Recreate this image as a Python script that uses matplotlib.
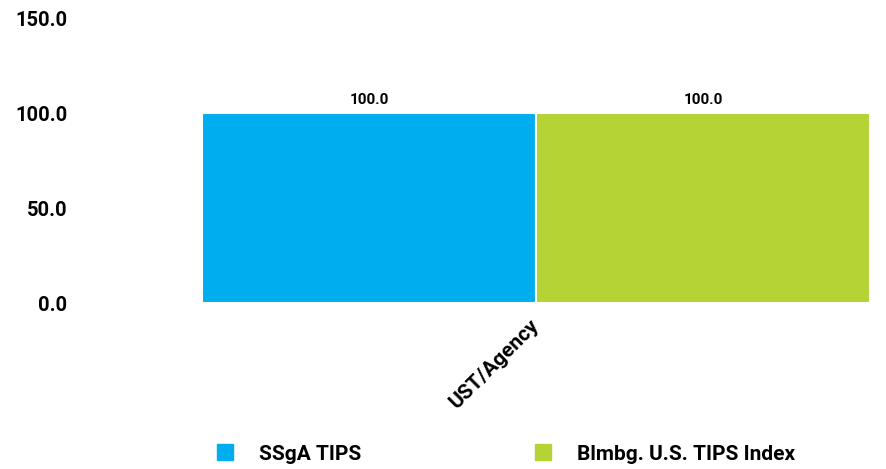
import matplotlib
matplotlib.use("Agg")
import matplotlib.pyplot as plt
from matplotlib.patches import Patch

categories = ["UST/Agency"]
series_names = ["SSgA TIPS", "Blmbg. U.S. TIPS Index"]
ssga_values = [100.0]
index_values = [100.0]
y_ticks = [0.0, 50.0, 100.0, 150.0]

colors = ["#00ADEE", "#B5D334"]
plt.rcParams["font.family"] = ["Roboto", "DejaVu Sans"]

W, H = 886, 469
fig = plt.figure(figsize=(W / 100, H / 100), dpi=100)
ax = fig.add_axes([80 / W, (H - 303) / H, 800 / W, 285 / H])

bar_w = 0.4
x = list(range(len(categories)))
for i, (vals, name, col) in enumerate(zip([ssga_values, index_values], series_names, colors)):
    pos = [xi + (i - 1) * bar_w for xi in x]
    bars = ax.bar(pos, vals, width=bar_w, align="edge", color=col,
                  edgecolor="white", linewidth=1.5, label=name)
    for b, v in zip(bars, vals):
        ax.text(b.get_x() + b.get_width() / 2, v + 3, f"{v:.1f}",
                ha="center", va="bottom", fontsize=11, fontweight="bold")

ax.set_xlim(-0.546, 0.412)
ax.set_ylim(0, 150)
ax.set_yticks(y_ticks)
ax.set_yticklabels([f"{t:.1f}" for t in y_ticks], fontsize=14.5, fontweight="bold")
ax.set_xticks(x)
ax.set_xticklabels(categories, rotation=45, ha="right", va="center",
                   rotation_mode="anchor", fontsize=15, fontweight="bold")
ax.tick_params(axis="both", length=0)
ax.tick_params(axis="y", pad=9)
ax.tick_params(axis="x", pad=14)
for s in ax.spines.values():
    s.set_visible(False)

handles = [Patch(color=c) for c in colors]
fig.legend(handles, series_names, loc="center", bbox_to_anchor=(506 / W, (H - 454) / H),
           ncol=2, frameon=False, prop={"size": 15, "weight": "bold"},
           handlelength=0.77, handleheight=0.77, handletextpad=1.25, columnspacing=8.3)

fig.savefig("out.png", dpi=100)
